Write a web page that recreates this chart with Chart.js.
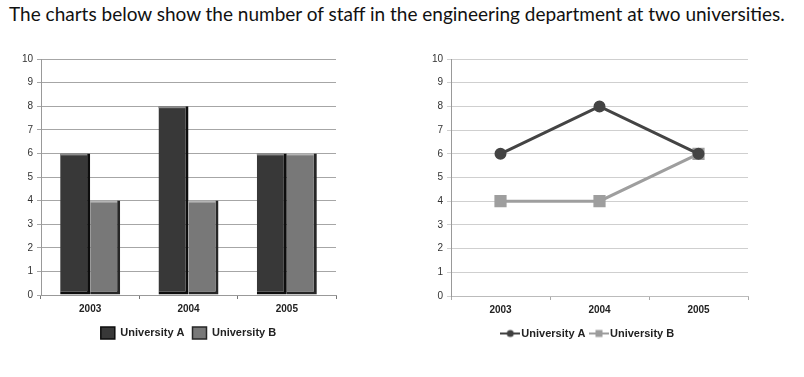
<!DOCTYPE html>
<html>
<head>
<meta charset="utf-8">
<script src="https://cdn.jsdelivr.net/npm/chart.js@4.4.0/dist/chart.umd.min.js"></script>
<style>
    body { margin: 0; background: #fff; width: 804px; height: 377px; position: relative; overflow: hidden; }
    #title { position: absolute; left: 9px; top: 2px; font-family: Lato, sans-serif; font-size: 19px; color: #111; white-space: nowrap; }
    .box { position: absolute; }
    #barBox { left: 0; top: 45px; width: 350px; height: 304px; }
    #lineBox { left: 400px; top: 45px; width: 370px; height: 304px; }
</style>
</head>
<body>
<div id="title">The charts below show the number of staff in the engineering department at two universities.</div>
<div class="box" id="barBox"><canvas id="barChart"></canvas></div>
<div class="box" id="lineBox"><canvas id="lineChart"></canvas></div>
<script>
// Chart data
const years = ['2003', '2004', '2005'];
const universityA = [6, 8, 6];
const universityB = [4, 4, 6];
const yTicks = [0, 1, 2, 3, 4, 5, 6, 7, 8, 9, 10];

const tickFont = { family: 'Liberation Sans, Arial, sans-serif', size: 10 };
const boldFont = { family: 'Liberation Sans, Arial, sans-serif', size: 10, weight: 'bold' };
const legendFont = { family: 'Liberation Sans, Arial, sans-serif', size: 11, weight: 'bold' };

// light cap on top of each bar, like the 3D look of the original
const barCaps = {
    id: 'barCaps',
    afterDatasetsDraw(chart) {
        const ctx = chart.ctx;
        chart.data.datasets.forEach((ds, i) => {
            chart.getDatasetMeta(i).data.forEach(bar => {
                const left = bar.x - bar.width / 2;
                ctx.fillStyle = ds.capColor;
                ctx.fillRect(left, bar.y, bar.width - 3, 2);
            });
        });
    }
};

// center the legend under the plot area instead of the whole canvas
const centerLegend = {
    id: 'centerLegend',
    afterLayout(chart) {
        const legend = chart.legend;
        const dx = (chart.chartArea.left + chart.chartArea.right) / 2 - (legend.left + legend.right) / 2;
        legend.left += dx;
        legend.right += dx;
    }
};

function yScale(gridColor) {
    return {
        min: 0,
        max: 10,
        afterBuildTicks(scale) { scale.ticks = yTicks.map(v => ({ value: v })); },
        afterFit(scale) { scale.width = 20; },
        ticks: { font: tickFont, color: '#333', padding: 4 },
        grid: { color: gridColor, tickLength: 4 },
        border: { color: '#999' }
    };
}

function initializeBarChart() {
    const ctx = document.getElementById('barChart').getContext('2d');
    new Chart(ctx, {
        type: 'bar',
        data: {
            labels: years,
            datasets: [{
                label: 'University A',
                data: universityA,
                backgroundColor: '#383838',
                borderColor: '#0d0d0d',
                borderWidth: { right: 3, bottom: 3, top: 0, left: 0 },
                borderSkipped: false,
                capColor: '#8c8c8c'
            }, {
                label: 'University B',
                data: universityB,
                backgroundColor: '#787878',
                borderColor: '#262626',
                borderWidth: { right: 3, bottom: 3, top: 0, left: 0 },
                borderSkipped: false,
                capColor: '#b5b5b5'
            }]
        },
        options: {
            responsive: true,
            maintainAspectRatio: false,
            animation: false,
            layout: { padding: { left: 21, right: 14, top: 14, bottom: 0 } },
            datasets: { bar: { categoryPercentage: 0.61, barPercentage: 1.0 } },
            plugins: {
                legend: {
                    position: 'bottom',
                    labels: { font: legendFont, color: '#222', boxWidth: 14, boxHeight: 12, padding: 8 }
                },
                tooltip: { enabled: false }
            },
            scales: {
                x: {
                    ticks: { font: boldFont, color: '#222', padding: 4 },
                    grid: { drawOnChartArea: false, color: '#777', tickLength: 4 },
                    border: { color: '#999' }
                },
                y: yScale('#a6a6a6')
            }
        },
        plugins: [barCaps, centerLegend]
    });
}

// small line + marker image for the line chart legend
function legendMarker(color, square) {
    const c = document.createElement('canvas');
    c.width = 20;
    c.height = 10;
    const g = c.getContext('2d');
    g.strokeStyle = color;
    g.lineWidth = 2;
    g.beginPath();
    g.moveTo(0, 5);
    g.lineTo(20, 5);
    g.stroke();
    g.fillStyle = color;
    if (square) {
        g.fillRect(6.5, 1.5, 7, 7);
    } else {
        g.beginPath();
        g.arc(10, 5, 3.5, 0, Math.PI * 2);
        g.fill();
    }
    return c;
}

function initializeLineChart() {
    const ctx = document.getElementById('lineChart').getContext('2d');
    const markerA = legendMarker('#404040', false);
    const markerB = legendMarker('#9c9c9c', true);
    new Chart(ctx, {
        type: 'line',
        data: {
            labels: years,
            datasets: [{
                label: 'University A',
                data: universityA,
                borderColor: '#444444',
                backgroundColor: '#444444',
                borderWidth: 3,
                pointRadius: 4.5,
                pointStyle: 'circle',
                tension: 0
            }, {
                label: 'University B',
                data: universityB,
                borderColor: '#9e9e9e',
                backgroundColor: '#9e9e9e',
                borderWidth: 3,
                pointRadius: 6.5,
                pointStyle: 'rect',
                tension: 0
            }]
        },
        options: {
            responsive: true,
            maintainAspectRatio: false,
            animation: false,
            layout: { padding: { left: 31, right: 22, top: 14, bottom: 0 } },
            plugins: {
                legend: {
                    position: 'bottom',
                    labels: {
                        font: legendFont,
                        color: '#222',
                        usePointStyle: true,
                        padding: 8,
                        generateLabels(chart) {
                            return chart.data.datasets.map((ds, i) => ({
                                text: ds.label,
                                pointStyle: i === 0 ? markerA : markerB,
                                datasetIndex: i,
                                fontColor: '#222',
                                lineWidth: 0
                            }));
                        }
                    }
                },
                tooltip: { enabled: false }
            },
            scales: {
                x: {
                    offset: true,
                    ticks: { font: boldFont, color: '#222', padding: 4 },
                    grid: { offset: true, drawOnChartArea: false, color: '#aaa', tickLength: 4 },
                    border: { color: '#bbb' }
                },
                y: yScale('#cfcfcf')
            }
        }
    });
}

document.addEventListener('DOMContentLoaded', function() {
    initializeBarChart();
    initializeLineChart();
});
</script>
</body>
</html>
